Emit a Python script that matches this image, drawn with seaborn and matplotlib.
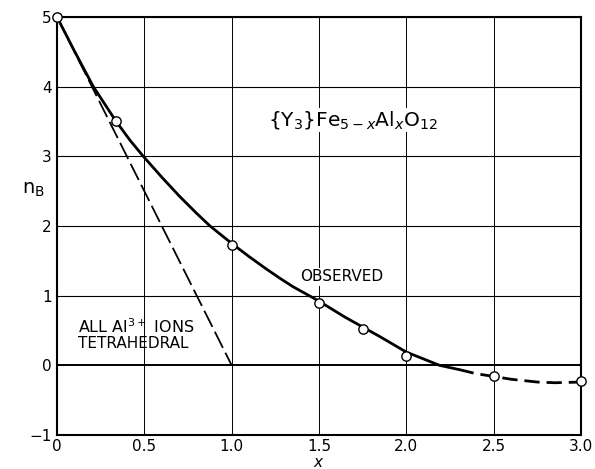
import numpy as np
import pandas as pd
import matplotlib
matplotlib.use("Agg")
import matplotlib.pyplot as plt
import seaborn as sns

# Observed data points
obs_x = [0.0, 0.336, 1.0, 1.5, 1.75, 2.0, 2.5, 3.0]
obs_y = [5.0, 3.51, 1.73, 0.90, 0.515, 0.13, -0.16, -0.23]

# Smooth observed curve
curve_x = [0.0, 0.1, 0.208, 0.336, 0.418, 0.494, 0.6, 0.7, 0.8, 0.876, 1.0, 1.1, 1.2,
           1.276, 1.35, 1.458, 1.5, 1.65, 1.75, 1.85, 2.0, 2.1, 2.19, 2.3]
curve_y = [5.0, 4.51, 4.0, 3.51, 3.23, 3.0, 2.7, 2.43, 2.18, 2.0, 1.75, 1.56, 1.38,
           1.25, 1.13, 0.98, 0.92, 0.69, 0.55, 0.41, 0.19, 0.09, 0.0, -0.06]
# Extrapolated (dashed) part
ext_x = [2.3, 2.4, 2.5, 2.6, 2.75, 2.85, 3.0]
ext_y = [-0.06, -0.12, -0.16, -0.20, -0.24, -0.25, -0.24]

# All Al3+ ions tetrahedral line
tet_x = [0.0, 1.0]
tet_y = [5.0, 0.0]

x_ticks = [0, 0.5, 1.0, 1.5, 2.0, 2.5, 3.0]
x_ticklabels = ["0", "0.5", "1.0", "1.5", "2.0", "2.5", "3.0"]
y_ticks = [-1, 0, 1, 2, 3, 4, 5]
y_ticklabels = ["\u22121", "0", "1", "2", "3", "4", "5"]

sns.set_style("white")
plt.rcParams['font.family'] = ['DejaVu Sans']
plt.rcParams['text.color'] = 'black'
plt.rcParams['axes.labelcolor'] = 'black'
plt.rcParams['xtick.color'] = 'black'
plt.rcParams['ytick.color'] = 'black'

fig = plt.figure(figsize=(5.95, 4.69), dpi=100)
ax = fig.add_axes([0.0958, 0.0725, 0.8807, 0.8913])

df_curve = pd.DataFrame({"x": curve_x, "y": curve_y})
df_ext = pd.DataFrame({"x": ext_x, "y": ext_y})
df_tet = pd.DataFrame({"x": tet_x, "y": tet_y})
df_obs = pd.DataFrame({"x": obs_x, "y": obs_y})

# grid
for xv in x_ticks:
    ax.axvline(xv, color="black", lw=0.7, zorder=1)
for yv in y_ticks:
    ax.axhline(yv, color="black", lw=1.4 if yv == 0 else 0.8, zorder=1)

sns.lineplot(data=df_curve, x="x", y="y", ax=ax, color="black", lw=2.0,
             sort=False, estimator=None, zorder=3)
sns.lineplot(data=df_ext, x="x", y="y", ax=ax, color="black", lw=2.0,
             sort=False, estimator=None, zorder=3)
ax.lines[-1].set_dashes([5.5, 2.5])
sns.lineplot(data=df_tet, x="x", y="y", ax=ax, color="black", lw=1.3,
             sort=False, estimator=None, zorder=3)
ax.lines[-1].set_dashes([10, 3])
sns.scatterplot(data=df_obs, x="x", y="y", ax=ax, s=45, color="white",
                edgecolor="black", linewidth=1.0, zorder=5, clip_on=False)

ax.set_xlim(0, 3.0)
ax.set_ylim(-1, 5)
ax.set_xticks(x_ticks)
ax.set_xticklabels(x_ticklabels, fontsize=11)
ax.set_yticks(y_ticks)
ax.set_yticklabels(y_ticklabels, fontsize=11)
ax.tick_params(axis="x", length=0, pad=3)
ax.tick_params(axis="y", length=0, pad=4)
for s in ax.spines.values():
    s.set_color("black")
    s.set_linewidth(1.5)

ax.set_xlabel("$x$", fontsize=11)
ax.xaxis.set_label_coords(0.5, -0.048)
ax.set_ylabel("$\\mathrm{n_B}$", fontsize=14, rotation=0)
ax.yaxis.set_label_coords(-0.045, 0.565)

ax.text(1.21, 3.52, r"$\{\mathrm{Y_3}\}\mathrm{Fe}_{5-x}\mathrm{Al}_{x}\mathrm{O}_{12}$",
        fontsize=14.5, ha="left", va="center",
        bbox=dict(facecolor="white", edgecolor="none", pad=1), zorder=4)
ax.text(1.39, 1.27, "OBSERVED", fontsize=11, ha="left", va="center",
        bbox=dict(facecolor="white", edgecolor="none", pad=1), zorder=4)
ax.text(0.12, 0.47, r"ALL Al$^{3+}$ IONS", fontsize=11.5, ha="left", va="baseline", zorder=4)
ax.text(0.12, 0.245, "TETRAHEDRAL", fontsize=11, ha="left", va="baseline", zorder=4)

fig.savefig("out.png", dpi=100)
